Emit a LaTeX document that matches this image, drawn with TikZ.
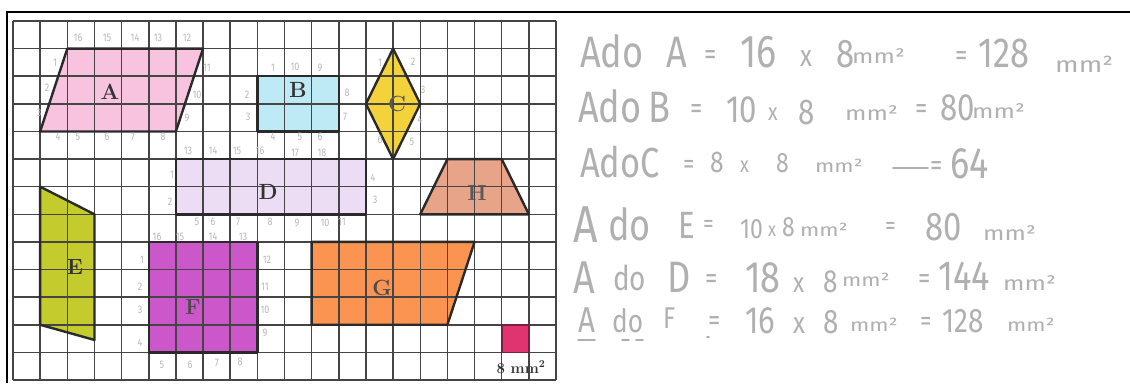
\documentclass[tikz,border=0pt]{standalone}
\usepackage{fontspec}
\newfontfamily\hand{Fira Sans}[FakeStretch=0.82]
\newfontfamily\handm{Fira Sans}[FakeStretch=1.25]
\definecolor{cA}{HTML}{F7C3DF}
\definecolor{cB}{HTML}{BDEAF4}
\definecolor{cC}{HTML}{F4D33A}
\definecolor{cD}{HTML}{ECDDF4}
\definecolor{cE}{HTML}{C4CB2C}
\definecolor{cF}{HTML}{CB57CB}
\definecolor{cG}{HTML}{FA9450}
\definecolor{cH}{HTML}{E8A488}
\definecolor{cS}{HTML}{DF3470}
\definecolor{gridc}{HTML}{454545}
\definecolor{edgec}{HTML}{2A2A2A}
\definecolor{hwgray}{HTML}{B0B0B0}
\definecolor{pencil}{HTML}{B8B8B8}
\newcommand\hw[5]{\node[hw,font=\hand\fontsize{#4}{#4}\selectfont] (#1) at (#2,#3) {#5};}
\newcommand\hwm[5]{\node[hw,font=\handm\fontsize{#4}{#4}\selectfont] (#1) at (#2,#3) {#5};}
\begin{document}
\begin{tikzpicture}[x=1pt,y=-1pt,
  gridline/.style={draw=gridc,line width=1.5pt},
  shapeedge/.style={draw=edgec,line width=2.4pt,line join=round},
  lbl/.style={font=\bfseries\fontsize{22}{22}\selectfont,text=black!80,inner sep=0pt},
  hw/.style={anchor=base west,inner sep=0pt,text=hwgray},
  hwline/.style={draw=hwgray,line width=1.6pt,line cap=round},
  pn/.style={font=\hand\fontsize{11}{11}\selectfont,text=pencil,inner sep=0pt}]
\useasboundingbox (0,0) rectangle (1130,383);
\fill[white] (0,0) rectangle (1130,383);
\begin{scope}[shift={(13,21)},x=27.15pt,y=-27.615pt]
  % fills
  \fill[cA] (2,1) -- (7,1) -- (6,4) -- (1,4) -- cycle;
  \fill[cB] (9,2) rectangle (12,4);
  \fill[cC] (14,1) -- (15,3) -- (14,5) -- (13,3) -- cycle;
  \fill[cD] (6,5) rectangle (13,7);
  \fill[cH] (16,5) -- (18,5) -- (19,7) -- (15,7) -- cycle;
  \fill[cE] (1,6) -- (3,7) -- (3,11.55) -- (1,11) -- cycle;
  \fill[cF] (5,8) rectangle (9,12);
  \fill[cG] (11,8) -- (17,8) -- (16,11) -- (11,11) -- cycle;
  \fill[cS] (18,11) rectangle (19,12);
  % grid
  \foreach \i in {0,...,20} \draw[gridline] (\i,0) -- (\i,13);
  \foreach \j in {0,...,13} \draw[gridline] (0,\j) -- (20,\j);
  % outlines
  \draw[shapeedge] (2,1) -- (7,1) -- (6,4) -- (1,4) -- cycle;
  \draw[shapeedge] (9,2) rectangle (12,4);
  \draw[shapeedge] (14,1) -- (15,3) -- (14,5) -- (13,3) -- cycle;
  \draw[shapeedge] (6,5) rectangle (13,7);
  \draw[shapeedge] (16,5) -- (18,5) -- (19,7) -- (15,7) -- cycle;
  \draw[shapeedge] (1,6) -- (3,7) -- (3,11.55) -- (1,11) -- cycle;
  \draw[shapeedge] (5,8) rectangle (9,12);
  \draw[shapeedge] (11,8) -- (17,8) -- (16,11) -- (11,11) -- cycle;
  \draw[draw=cS!55!black,line width=1.6pt] (18,11) rectangle (19,12);
\end{scope}
% frame
\draw[black,line width=2pt] (7,383) -- (7,12) -- (1130,12);
% shape labels
\node[lbl] (LA) at (110,92) {A};
\node[lbl] (LB) at (298,90) {B};
\node[lbl,text=black!65] (LC) at (397,104) {C};
\node[lbl] (LD) at (268,192) {D};
\node[lbl,text=black!65] (LH) at (477,193) {H};
\node[lbl] (LE) at (75,267) {E};
\node[lbl,text=black!70] (LF) at (193,307) {F};
\node[lbl,text=black!70] (LG) at (382,288) {G};
\node[font=\bfseries\fontsize{15}{15}\selectfont,text=black!80,anchor=base,inner sep=0pt] (unit) at (521,373) {8 mm\textsuperscript{2}};
% pencil counting marks
\foreach \x/\y/\t [count=\k] in {55/63/1,47/88/2,39/113/3,58/137/4,78/137/5,107/137/6,133/137/7,163/137/8,187/118/9,197/95/10,207/68/11,187/38/12,158/38/13,135/38/14,107/38/15,78/38/16}
  \node[pn] (pA\k) at (\x,\y) {\t};
\foreach \x/\y/\t [count=\k] in {273/68/1,247/95/2,248/117/3,273/137/4,300/137/5,320/137/6,345/117/7,347/93/8,320/68/9,295/67/10}
  \node[pn] (pB\k) at (\x,\y) {\t};
\foreach \x/\y/\t [count=\k] in {380/63/1,413/62/2,423/90/3,420/120/4,412/142/5,380/140/6}
  \node[pn] (pC\k) at (\x,\y) {\t};
\foreach \x/\y/\t [count=\k] in {172/175/1,170/202/2,197/222/5,213/222/6,238/222/7,270/222/8,297/223/9,325/223/10,342/222/11,375/200/3,373/178/4,188/151/13,213/151/14,237/151/15,260/151/16,295/153/17,322/153/18}
  \node[pn] (pD\k) at (\x,\y) {\t};
\foreach \x/\y/\t [count=\k] in {142/260/1,140/287/2,140/310/3,140/343/4,162/365/5,190/365/6,217/363/7,240/362/8,265/333/9,265/310/10,265/287/11,267/260/12,243/237/13,213/237/14,180/237/15,157/237/16}
  \node[pn] (pF\k) at (\x,\y) {\t};
% handwritten calculations
\hw{a1}{580}{67}{44}{Ado}
\hw{a2}{666}{67}{44}{A}
\hw{a3}{704}{64}{30}{=}
\hw{a4}{740}{67}{46}{16}
\hw{a5}{800}{66}{30}{x}
\hw{a6}{836}{67}{40}{8}
\hwm{a7}{852}{63}{20}{mm²}
\hw{a8}{955}{65}{30}{=}
\hw{a9}{978}{67}{42}{128}
\hwm{a10}{1055}{72}{22}{mm²}
%
\hw{b1}{578}{122}{44}{Ado}
\hw{b2}{648}{122}{44}{B}
\hw{b3}{690}{118}{30}{=}
\hw{b4}{726}{122}{38}{10}
\hw{b5}{768}{120}{24}{x}
\hw{b6}{798}{124}{36}{8}
\hwm{b7}{845}{120}{20}{mm²}
\hw{b8}{915}{118}{30}{=}
\hw{b9}{940}{120}{38}{80}
\hwm{b10}{972}{118}{20}{mm²}
%
\hw{c1}{580}{177}{42}{AdoC}
\hw{c2}{683}{173}{28}{=}
\hw{c3}{710}{172}{30}{8}
\hw{c4}{740}{172}{22}{x}
\hw{c5}{776}{172}{28}{8}
\hwm{c6}{815}{172}{18}{mm²}
\coordinate (c6e) at (893,168);
\coordinate (c7s) at (928,168);
\draw[hwline] (c6e) -- (c7s);
\hw{c7}{930}{175}{30}{=}
\hw{c8}{950}{178}{44}{64}
%
\hw{d1}{573}{242}{52}{A}
\hw{d2}{608}{240}{44}{do}
\hw{d3}{678}{238}{38}{E}
\hw{d4}{703}{232}{26}{=}
\hw{d5}{740}{238}{28}{10}
\hw{d6}{768}{236}{20}{x}
\hw{d7}{782}{236}{28}{8}
\hwm{d8}{800}{236}{18}{mm²}
\hw{d9}{885}{234}{26}{=}
\hw{d10}{925}{240}{40}{80}
\hwm{d11}{983}{240}{20}{mm²}
%
\hw{e1}{573}{293}{46}{A}
\hw{e2}{613}{290}{34}{do}
\hw{e3}{667}{292}{44}{D}
\hw{e4}{705}{288}{30}{=}
\hw{e5}{745}{292}{44}{18}
\hw{e6}{793}{292}{28}{x}
\hw{e7}{823}{292}{32}{8}
\hwm{e8}{842}{286}{18}{mm²}
\hw{e9}{918}{288}{30}{=}
\hw{e10}{938}{290}{42}{144}
\hwm{e11}{1003}{290}{20}{mm²}
%
\hw{f1}{578}{332}{36}{A}
\hw{f2}{612}{332}{32}{do}
\hw{f3}{663}{328}{30}{F}
\hw{f4}{708}{330}{30}{=}
\hw{f5}{745}{333}{38}{16}
\hw{f6}{793}{333}{30}{x}
\hw{f7}{823}{333}{34}{8}
\hwm{f8}{850}{331}{18}{mm²}
\hw{f9}{920}{330}{28}{=}
\hw{f10}{942}{332}{34}{128}
\hwm{f11}{1007}{331}{18}{mm²}
\coordinate (u1a) at (578,340); \coordinate (u1b) at (595,340);
\coordinate (u2a) at (622,340); \coordinate (u2b) at (629,340);
\coordinate (u3a) at (636,340); \coordinate (u3b) at (643,340);
\coordinate (u4a) at (707,337); \coordinate (u4b) at (709,337);
\draw[hwline] (u1a) -- (u1b);
\draw[hwline] (u2a) -- (u2b);
\draw[hwline] (u3a) -- (u3b);
\draw[hwline] (u4a) -- (u4b);
\end{tikzpicture}
\end{document}
